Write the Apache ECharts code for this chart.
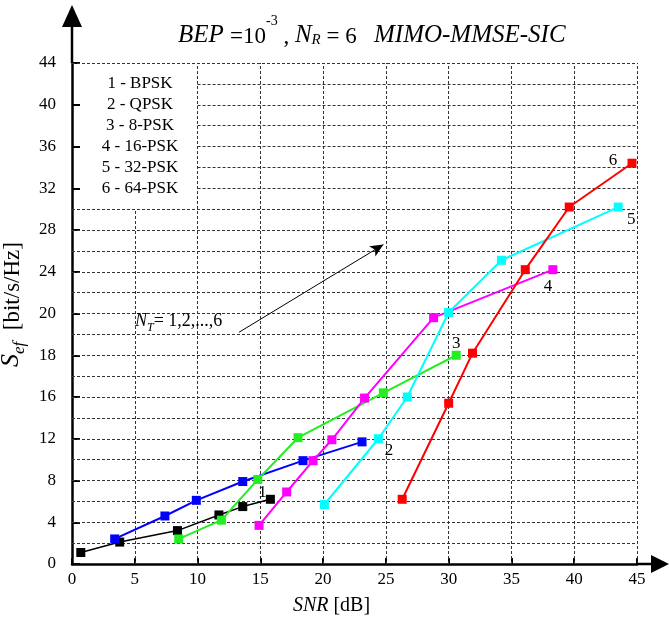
<!DOCTYPE html>
<html>
<head>
<meta charset="utf-8">
<title>MIMO-MMSE-SIC</title>
<script src="https://cdn.jsdelivr.net/npm/echarts@6/dist/echarts.min.js"></script>
<style>
	html, body { margin: 0; padding: 0; background: #fff; }
	#chart { width: 669px; height: 630px; }
</style>
</head>
<body>
<div id="chart"></div>
<script>
// 纵轴刻度 (原图刻度不等距)
var yTicks = [ 0, 4, 8, 12, 16, 18, 20, 24, 28, 32, 36, 40, 44 ];
var xTicks = [ 0, 5, 10, 15, 20, 25, 30, 35, 40, 45 ];

// 各曲线数据 SNR [dB] / Sef [bit/s/Hz]
var bpskX = [ 0.7, 3.8, 8.4, 11.7, 13.6, 15.8 ];
var bpskY = [ 1.1, 2.1, 3.2, 4.7, 5.5, 6.2 ];
var qpskX = [ 3.4, 7.4, 9.9, 13.6, 18.4, 23.1 ];
var qpskY = [ 2.4, 4.6, 6.1, 7.9, 9.9, 11.7 ];
var psk8X = [ 8.5, 11.9, 14.8, 18.0, 24.8, 30.6 ];
var psk8Y = [ 2.4, 4.2, 8.1, 12.1, 16.2, 18.0 ];
var psk16X = [ 14.9, 17.1, 19.2, 20.7, 23.3, 28.8, 38.3 ];
var psk16Y = [ 3.7, 6.9, 9.9, 11.9, 15.9, 19.8, 24.2 ];
var psk32X = [ 20.1, 24.4, 26.7, 30.0, 34.2, 43.5 ];
var psk32Y = [ 5.7, 12.0, 16.0, 20.1, 25.1, 30.2 ];
var psk64X = [ 26.3, 30.0, 31.9, 36.1, 39.6, 44.6 ];
var psk64Y = [ 6.2, 15.4, 18.1, 24.2, 30.2, 34.4 ];

var curveNames = [ '1', '2', '3', '4', '5', '6' ];
var legendLines = [ '1 - BPSK', '2 - QPSK', '3 - 8-PSK', '4 - 16-PSK', '5 - 32-PSK', '6 - 64-PSK' ];

// N_T 箭头
var arrowFrom = [ 13.3, 19.1 ];
var arrowTo = [ 24.8, 26.6 ];

var FONT = 'Liberation Serif, Times New Roman, serif';

// 图例框占的网格: SNR 0~10, 刻度位置 8.5 以上
var LEGEND_RIGHT = 10;
var LEGEND_BOTTOM = 8.5;

// 数值 -> 纵轴刻度位置 (按刻度分段线性)
function toPos(v) {
	for (var i = 1; i < yTicks.length; i++) {
		if (v <= yTicks[i]) {
			return (i - 1) + (v - yTicks[i - 1]) / (yTicks[i] - yTicks[i - 1]);
		}
	}
	return yTicks.length - 1;
}

function buildData(xs, ys, name, offset) {
	var d = [];
	for (var i = 0; i < xs.length; i++) {
		d.push([ xs[i], toPos(ys[i]) ]);
	}
	// 最后一点标曲线编号
	var last = d[d.length - 1];
	d[d.length - 1] = {
		value : last,
		label : {
			show : true,
			position : 'inside',
			offset : offset,
			formatter : name,
			color : '#000',
			fontFamily : FONT,
			fontSize : 17
		}
	};
	return d;
}

function makeSeries(xs, ys, idx, color, offset, width) {
	return {
		name : legendLines[idx],
		type : 'line',
		data : buildData(xs, ys, curveNames[idx], offset),
		symbol : 'rect',
		symbolSize : 9,
		color : color,
		lineStyle : {
			color : color,
			width : width
		},
		itemStyle : {
			color : color
		},
		label : {
			show : false
		},
		animation : false,
		z : 3
	};
}

// 网格虚线 (图例框处不画)
function buildGridLines() {
	var lines = [];
	var top = yTicks.length - 1;
	for (var k = 1; k <= top * 2; k++) {
		var p = k / 2;
		var x0 = (p > LEGEND_BOTTOM && p < top) ? LEGEND_RIGHT : 0;
		lines.push([ {
			coord : [ x0, p ]
		}, {
			coord : [ xTicks[xTicks.length - 1], p ]
		} ]);
	}
	for (var j = 1; j < xTicks.length; j++) {
		var y1 = xTicks[j] < LEGEND_RIGHT ? LEGEND_BOTTOM : top;
		lines.push([ {
			coord : [ xTicks[j], 0 ]
		}, {
			coord : [ xTicks[j], y1 ]
		} ]);
	}
	return lines;
}

var chart = echarts.init(document.getElementById('chart'));

var series = [
		makeSeries(bpskX, bpskY, 0, '#000000', [ -8, -7 ], 1.5),
		makeSeries(qpskX, qpskY, 1, '#0000ff', [ 27, 9 ], 2),
		makeSeries(psk8X, psk8Y, 2, '#22ee22', [ 0, -12 ], 2),
		makeSeries(psk16X, psk16Y, 3, '#ff00ff', [ -5, 17 ], 2),
		makeSeries(psk32X, psk32Y, 4, '#00ffff', [ 13, 12 ], 2),
		makeSeries(psk64X, psk64Y, 5, '#ff0000', [ -19, -3 ], 2) ];

// 箭头 N_T = 1,2,...,6
series[0].markLine = {
	silent : true,
	symbol : [ 'none', 'arrow' ],
	symbolSize : [ 9, 13 ],
	label : {
		show : false
	},
	lineStyle : {
		color : '#000',
		width : 1,
		type : 'solid'
	},
	data : [ [ {
		coord : [ arrowFrom[0], toPos(arrowFrom[1]) ]
	}, {
		coord : [ arrowTo[0], toPos(arrowTo[1]) ]
	} ] ]
};

// 网格用的辅助系列
series.unshift({
	name : 'grid',
	type : 'line',
	data : [ [ 0, 0 ] ],
	showSymbol : false,
	silent : true,
	lineStyle : {
		width : 0
	},
	z : 1,
	markLine : {
		z : 1,
		silent : true,
		animation : false,
		symbol : [ 'none', 'none' ],
		label : {
			show : false
		},
		emphasis : {
			disabled : true
		},
		lineStyle : {
			color : '#333',
			width : 1,
			type : [ 3, 2 ]
		},
		data : buildGridLines()
	}
});

var option = {
	backgroundColor : '#fff',
	animation : false,
	grid : {
		left : 72,
		right : 32,
		top : 63,
		bottom : 66,
		containLabel : false,
		outerBoundsMode : 'none'
	},
	xAxis : {
		type : 'value',
		min : 0,
		max : 45,
		interval : 5,
		name : '{i|SNR} [dB]',
		nameLocation : 'middle',
		nameGap : 32,
		nameTextStyle : {
			color : '#000',
			fontFamily : FONT,
			fontSize : 20,
			padding : [ 0, 46, 0, 0 ],
			rich : {
				i : {
					fontStyle : 'italic',
					fontFamily : FONT,
					fontSize : 20
				}
			}
		},
		axisLine : {
			lineStyle : {
				color : '#000',
				width : 2.5
			}
		},
		axisTick : {
			inside : true,
			length : 6,
			lineStyle : {
				color : '#000',
				width : 2
			}
		},
		axisLabel : {
			color : '#000',
			fontFamily : FONT,
			fontSize : 17,
			margin : 7
		},
		splitLine : {
			show : false
		}
	},
	yAxis : {
		type : 'value',
		min : 0,
		max : yTicks.length - 1,
		interval : 1,
		name : '{i|S}{sub|ef}  [bit/s/Hz]',
		nameLocation : 'middle',
		nameRotate : 90,
		nameGap : 40,
		nameTextStyle : {
			color : '#000',
			fontFamily : FONT,
			fontSize : 23,
			lineHeight : 30,
			padding : [ 0, 0, 0, 18 ],
			rich : {
				i : {
					fontStyle : 'italic',
					fontFamily : FONT,
					fontSize : 26,
					lineHeight : 30,
					verticalAlign : 'top'
				},
				sub : {
					fontStyle : 'italic',
					fontFamily : FONT,
					fontSize : 17,
					lineHeight : 30,
					verticalAlign : 'bottom'
				}
			}
		},
		axisLine : {
			lineStyle : {
				color : '#000',
				width : 2.5
			}
		},
		axisTick : {
			inside : true,
			length : 8,
			lineStyle : {
				color : '#000',
				width : 2
			}
		},
		axisLabel : {
			color : '#000',
			fontFamily : FONT,
			fontSize : 17,
			margin : 16,
			padding : [ 0, 0, 6, 0 ],
			formatter : function(v) {
				return yTicks[Math.round(v)];
			}
		},
		splitLine : {
			show : false
		}
	},
	graphic : [
			// 图例文字
			{
				type : 'text',
				z : 101,
				x : 140,
				y : 73,
				style : {
					text : legendLines.join('\n'),
					fontFamily : FONT,
					fontSize : 17,
					lineHeight : 21,
					fill : '#000',
					align : 'center'
				}
			},
			// 标题
			{
				type : 'text',
				z : 101,
				left : 178,
				top : 14,
				style : {
					rich : {
						i : {
							fontStyle : 'italic',
							fontFamily : FONT,
							fontSize : 25,
							lineHeight : 34,
							verticalAlign : 'bottom'
						},
						n : {
							fontFamily : FONT,
							fontSize : 23,
							lineHeight : 34,
							verticalAlign : 'bottom'
						},
						sup : {
							fontFamily : FONT,
							fontSize : 14,
							lineHeight : 32,
							verticalAlign : 'top'
						},
						sub : {
							fontStyle : 'italic',
							fontFamily : FONT,
							fontSize : 15,
							lineHeight : 26,
							verticalAlign : 'bottom'
						}
					},
					text : '{i|BEP }{n|=10}{sup|-3}{n| , }{i|N}{sub|R}{n| = 6   }{i|MIMO-MMSE-SIC}',
					fill : '#000'
				}
			},
			// N_T 文字
			{
				type : 'text',
				z : 101,
				left : 135,
				top : 312,
				style : {
					rich : {
						i : {
							fontStyle : 'italic',
							fontFamily : FONT,
							fontSize : 18,
							lineHeight : 22,
							verticalAlign : 'top'
						},
						sub : {
							fontStyle : 'italic',
							fontFamily : FONT,
							fontSize : 12,
							lineHeight : 22,
							verticalAlign : 'bottom'
						},
						n : {
							fontFamily : FONT,
							fontSize : 18,
							lineHeight : 22,
							verticalAlign : 'top'
						}
					},
					text : '{i|N}{sub|T}{n|= 1,2,...,6}',
					fill : '#000'
				}
			},
			// 坐标轴箭头
			{
				type : 'line',
				z : 101,
				shape : {
					x1 : 72,
					y1 : 63,
					x2 : 72,
					y2 : 24
				},
				style : {
					stroke : '#000',
					lineWidth : 2.5
				}
			}, {
				type : 'polygon',
				z : 101,
				shape : {
					points : [ [ 72, 5 ], [ 62, 27 ], [ 82, 27 ] ]
				},
				style : {
					fill : '#000'
				}
			}, {
				type : 'line',
				z : 101,
				shape : {
					x1 : 636,
					y1 : 564,
					x2 : 655,
					y2 : 564
				},
				style : {
					stroke : '#000',
					lineWidth : 2.5
				}
			}, {
				type : 'polygon',
				z : 101,
				shape : {
					points : [ [ 669, 564 ], [ 651, 555 ], [ 651, 573 ] ]
				},
				style : {
					fill : '#000'
				}
			} ],
	series : series
};

chart.setOption(option);
</script>
</body>
</html>
